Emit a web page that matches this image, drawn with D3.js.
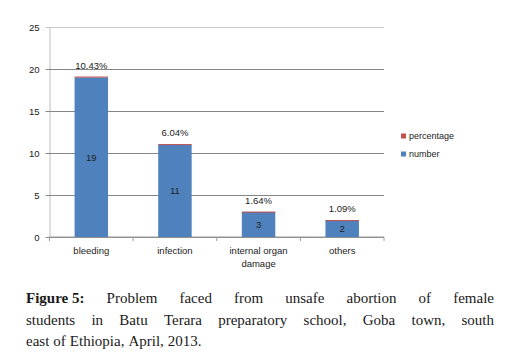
<!DOCTYPE html>
<html lang="en">
  <head>
    <meta charset="UTF-8" />
    <title>Problem faced from unsafe abortion</title>
    <script src="https://d3js.org/d3.v7.min.js"></script>
    <style>
      body {
        margin: 0;
        background: #fff;
      }
      svg text {
        font-family: "Liberation Sans", "DejaVu Sans", sans-serif;
      }
      .caption text {
        font-family: "Liberation Serif", "DejaVu Serif", serif;
      }
    </style>
  </head>
  <body>
    <svg id="chart" width="505" height="363"></svg>
    <script>
      // chart values
      const categories = ["bleeding", "infection", "internal organ damage", "others"];
      const catLines = [["bleeding"], ["infection"], ["internal organ", "damage"], ["others"]];
      const numbers = [19, 11, 3, 2];
      const percentages = [10.43, 6.04, 1.64, 1.09];
      const yTicks = [0, 5, 10, 15, 20, 25];
      const seriesNames = ["percentage", "number"];
      const seriesColors = ["#C0504D", "#4F81BD"];

      const svg = d3.select("#chart");
      const plotLeft = 49.5, plotRight = 384, plotTop = 27, plotBottom = 237;

      const x = d3.scaleBand()
        .domain(categories)
        .range([plotLeft, plotRight])
        .paddingInner(0.6)
        .paddingOuter(0.3);

      const y = d3.scaleLinear().domain([0, 25]).range([plotBottom, plotTop]);

      // gridlines + y labels
      const yAxis = d3.axisLeft(y)
        .tickValues(yTicks)
        .tickSize(-(plotRight - plotLeft))
        .tickSizeOuter(0)
        .tickPadding(10);
      const gy = svg.append("g")
        .attr("transform", `translate(${plotLeft},0)`)
        .call(yAxis);
      gy.select(".domain").attr("stroke", "#bdbdbd");
      gy.selectAll(".tick line")
        .attr("stroke", (d) => (d === 25 ? "#c8c8c8" : "#868686"))
        .attr("x1", -4);
      gy.selectAll(".tick text")
        .attr("font-size", 9.5)
        .attr("fill", "#222")
        .attr("font-family", "Liberation Sans, sans-serif");

      // bottom axis line and boundary ticks
      const step = x.step();
      svg.append("line")
        .attr("x1", plotLeft).attr("x2", plotRight)
        .attr("y1", y(0)).attr("y2", y(0))
        .attr("stroke", "#9a9a9a");
      svg.selectAll(".xtick")
        .data(d3.range(categories.length + 1))
        .join("line")
        .attr("class", "xtick")
        .attr("x1", (i) => plotLeft + i * step)
        .attr("x2", (i) => plotLeft + i * step)
        .attr("y1", y(0))
        .attr("y2", y(0) + 4)
        .attr("stroke", "#9a9a9a");

      // stacked bars: number then percentage (as fraction)
      const rows = categories.map((c, i) => ({
        cat: c,
        number: numbers[i],
        percentage: percentages[i] / 100,
      }));
      const stack = d3.stack().keys(["number", "percentage"]);
      const layers = stack(rows);
      const colorOf = { number: seriesColors[1], percentage: seriesColors[0] };

      svg.selectAll(".layer")
        .data(layers)
        .join("g")
        .attr("class", "layer")
        .attr("fill", (d) => colorOf[d.key])
        .selectAll("rect")
        .data((d) => d)
        .join("rect")
        .attr("x", (d) => x(d.data.cat))
        .attr("width", x.bandwidth())
        .attr("y", (d) => y(d[1]))
        .attr("height", (d) => Math.max(y(d[0]) - y(d[1]), 1));

      // number labels inside bars
      svg.selectAll(".numLabel")
        .data(rows)
        .join("text")
        .attr("class", "numLabel")
        .attr("x", (d) => x(d.cat) + x.bandwidth() / 2)
        .attr("y", (d) => y(d.number / 2))
        .attr("dy", "0.35em")
        .attr("text-anchor", "middle")
        .attr("font-size", 9.5)
        .attr("fill", "#222")
        .text((d) => d.number);

      // percentage labels above bars
      svg.selectAll(".pctLabel")
        .data(rows)
        .join("text")
        .attr("class", "pctLabel")
        .attr("x", (d) => x(d.cat) + x.bandwidth() / 2)
        .attr("y", (d) => y(d.number + d.percentage) - 11)
        .attr("dy", "0.35em")
        .attr("text-anchor", "middle")
        .attr("font-size", 9.5)
        .attr("fill", "#222")
        .text((d, i) => percentages[i].toFixed(2) + "%");

      // category labels
      const catG = svg.selectAll(".cat")
        .data(categories)
        .join("text")
        .attr("class", "cat")
        .attr("text-anchor", "middle")
        .attr("font-size", 9.5)
        .attr("fill", "#222");
      catG.selectAll("tspan")
        .data((d, i) => catLines[i].map((t) => ({ t, c: d })))
        .join("tspan")
        .attr("x", (d) => x(d.c) + x.bandwidth() / 2)
        .attr("y", (d, j) => 254 + j * 12.5)
        .text((d) => d.t);

      // legend
      const legend = svg.append("g").selectAll("g")
        .data(seriesNames)
        .join("g")
        .attr("transform", (d, i) => `translate(401,${136 + i * 18})`);
      legend.append("rect")
        .attr("x", 0).attr("y", -2.5)
        .attr("width", 5).attr("height", 5)
        .attr("fill", (d, i) => seriesColors[i]);
      legend.append("text")
        .attr("x", 8).attr("dy", "0.35em")
        .attr("font-size", 9)
        .attr("fill", "#222")
        .text((d) => d);

      // caption, justified like the source page
      const captionLines = [
        { bold: "Figure 5:", words: ["Problem", "faced", "from", "unsafe", "abortion", "of", "female"], justify: true },
        { words: ["students", "in", "Batu", "Terara", "preparatory", "school,", "Goba", "town,", "south"], justify: true },
        { words: ["east", "of", "Ethiopia,", "April,", "2013."], justify: false },
      ];
      const cap = svg.append("g").attr("class", "caption");
      const capLeft = 26, capRight = 494, capFont = 15;
      captionLines.forEach((line, li) => {
        const yy = 303 + li * 21.7;
        const tokens = [];
        if (line.bold) tokens.push({ w: line.bold, bold: true });
        line.words.forEach((w) => tokens.push({ w, bold: false }));
        const nodes = tokens.map((t) =>
          cap.append("text")
            .attr("y", yy)
            .attr("font-size", capFont)
            .attr("font-weight", t.bold ? "bold" : "normal")
            .attr("fill", "#1a1a1a")
            .attr("xml:space", "preserve")
            .text(t.w)
        );
        const widths = nodes.map((n) => n.node().getComputedTextLength());
        const total = d3.sum(widths);
        const gap = line.justify
          ? (capRight - capLeft - total) / (tokens.length - 1)
          : 4;
        let cx = capLeft;
        nodes.forEach((n, i) => {
          n.attr("x", cx);
          cx += widths[i] + gap;
        });
      });
    </script>
  </body>
</html>
